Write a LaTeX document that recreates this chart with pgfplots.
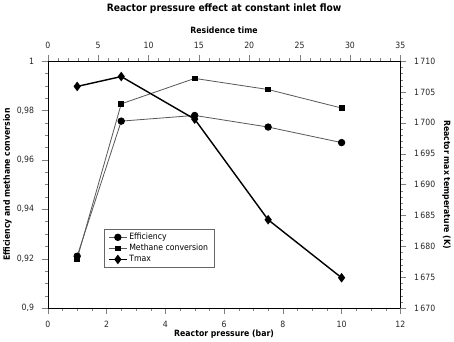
\documentclass[border=0pt]{standalone}
\usepackage{fontspec}
\setmainfont{DejaVu Sans Condensed}
\usepackage{pgfplots}
\pgfplotsset{compat=1.18}
\pgfplotsset{
  every axis/.append style={
    scale only axis,
    width=347pt, height=243pt,
    ticklabel style={font=\fontsize{8.5}{10}\selectfont, color=black!85},
    label style={font=\bfseries\fontsize{8.5}{10}\selectfont},
    /pgf/number format/assume math mode=true,
    /pgf/number format/use comma,
    /pgf/number format/1000 sep={\,},
    xticklabel shift=3pt, yticklabel shift=4pt,
  },
}
\begin{document}
\begin{tikzpicture}
% main axis: bottom and left
\begin{axis}[
  tick align=outside, major tick length=6pt,
  xtick pos=bottom, ytick pos=left,
  xmin=0, xmax=12, ymin=0.9, ymax=1,
  xtick={0,2,...,12}, minor x tick num=3,
  ytick={0.9,0.92,0.94,0.96,0.98,1}, minor y tick num=3,
  yticklabel style={/pgf/number format/fixed, /pgf/number format/precision=2},
  xlabel={Reactor pressure (bar)},
  ylabel={Efficiency and methane conversion},
  xlabel style={yshift=4pt},
  ylabel style={yshift=-2pt},
  legend style={at={(0.16,0.32)}, anchor=north west, draw=black!60,
    font=\fontsize{8.5}{10}\selectfont, row sep=-1pt, inner xsep=4pt},
  legend cell align=left,
  clip=false,
]
\addplot[black!65, line width=0.8pt, mark=*, mark size=3.2pt, mark options={black, fill=black}]
  coordinates {(1,0.921) (2.5,0.9757) (5,0.978) (7.5,0.9733) (10,0.967)};
\addlegendentry{Efficiency}
\addplot[black!65, line width=0.8pt, mark=square*, mark size=2.3pt, mark options={black, fill=black}]
  coordinates {(1,0.920) (2.5,0.9827) (5,0.993) (7.5,0.9885) (10,0.981)};
\addlegendentry{Methane conversion}
\addlegendimage{black, line width=1.4pt, mark=diamond*, mark size=3.6pt, mark options={black, fill=black}}
\addlegendentry{Tmax}
\end{axis}
% right axis: Tmax
\begin{axis}[
  tick align=outside, major tick length=6pt,
  hide x axis,
  ytick pos=right, yticklabel pos=right,
  xmin=0, xmax=12, ymin=1670, ymax=1710,
  ytick={1670,1675,...,1710}, minor y tick num=4,
  ylabel={Reactor max temperature (K)},
  ylabel style={rotate=180},
]
\addplot[black, line width=1.4pt, mark=diamond*, mark size=3.6pt, mark options={black, fill=black}]
  coordinates {(1,1705.9) (2.5,1707.5) (5,1700.6) (7.5,1684.3) (10,1674.9)};
\end{axis}
% top axis: residence time
\begin{axis}[
  tick align=outside, major tick length=6pt,
  hide y axis,
  xtick pos=top, xticklabel pos=top,
  xmin=0, xmax=35, ymin=0, ymax=1,
  xtick={0,5,...,35}, minor x tick num=4,
  xlabel={Residence time},
  xlabel style={yshift=1pt},
  title={Reactor pressure effect at constant inlet flow},
  title style={font=\bfseries\fontsize{10}{12}\selectfont, at={(0.5,1)}, anchor=center, yshift=46pt},
]
\end{axis}
\end{tikzpicture}
\end{document}
